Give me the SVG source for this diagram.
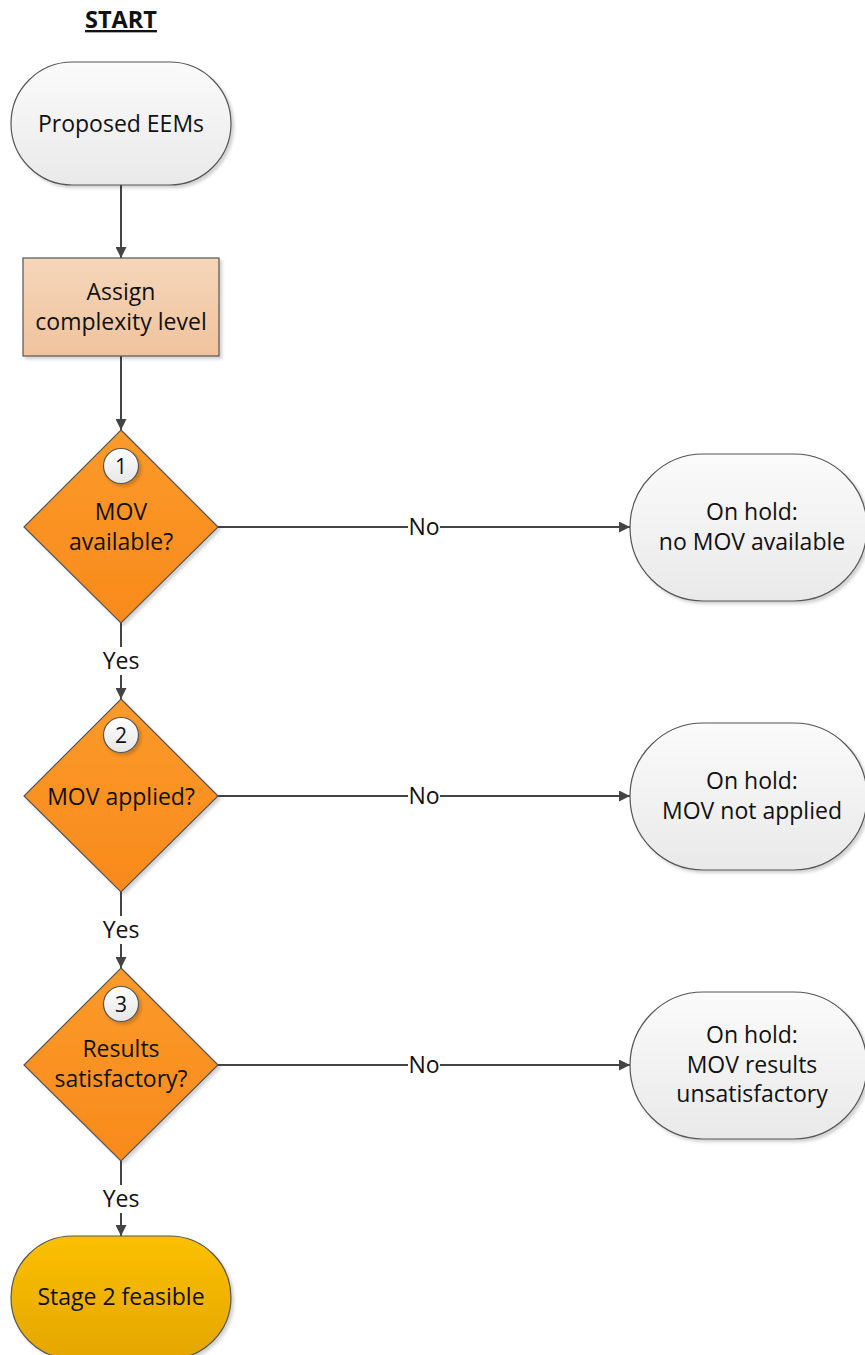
<svg xmlns="http://www.w3.org/2000/svg" width="865" height="1355" viewBox="0 0 865 1355">
  <defs>
    <linearGradient id="gGray" x1="0" y1="0" x2="0" y2="1">
      <stop offset="0" stop-color="#fbfbfb"/>
      <stop offset="1" stop-color="#e9e9e9"/>
    </linearGradient>
    <linearGradient id="gPeach" x1="0" y1="0" x2="0" y2="1">
      <stop offset="0" stop-color="#f5d6ba"/>
      <stop offset="1" stop-color="#f0c39d"/>
    </linearGradient>
    <linearGradient id="gOrange" x1="0" y1="0" x2="0" y2="1">
      <stop offset="0" stop-color="#fb9a2a"/>
      <stop offset="1" stop-color="#f98a1c"/>
    </linearGradient>
    <linearGradient id="gGold" x1="0" y1="0" x2="0" y2="1">
      <stop offset="0" stop-color="#fcc000"/>
      <stop offset="1" stop-color="#e4a600"/>
    </linearGradient>
    <linearGradient id="gBadge" x1="0" y1="0" x2="0" y2="1">
      <stop offset="0" stop-color="#ffffff"/>
      <stop offset="1" stop-color="#e6e6e6"/>
    </linearGradient>
    <filter id="shadow" x="-10%" y="-10%" width="130%" height="130%">
      <feDropShadow dx="2.5" dy="2.5" stdDeviation="1.5" flood-color="#000" flood-opacity="0.18"/>
    </filter>
    <marker id="arrow" viewBox="0 0 10 10" refX="10" refY="5" markerWidth="5.5" markerHeight="5.5" orient="auto" markerUnits="strokeWidth">
      <path d="M0,0 L10,5 L0,10 z" fill="#444"/>
    </marker>
  </defs>
  <style>
    text { font-family: "Open Sans", "Noto Sans", "DejaVu Sans", sans-serif; fill: #111; text-anchor: middle; }
    .lbl { font-size: 23px; }
    .edge { font-size: 23px; }
    .badge-t { font-size: 21px; }
    .shape { stroke: #555; stroke-width: 1.2; filter: url(#shadow); }
    .conn { stroke: #444; stroke-width: 2; fill: none; }
    .bg { fill: #fff; }
  </style>

  <!-- heading -->
  <text x="121" y="28" style="font-size:23.5px;font-weight:bold;text-decoration:underline">START</text>

  <!-- connectors -->
  <g id="connectors">
    <line class="conn" x1="121" y1="185" x2="121" y2="258" marker-end="url(#arrow)"/>
    <line class="conn" x1="121" y1="356" x2="121" y2="430" marker-end="url(#arrow)"/>

    <line class="conn" x1="121" y1="623" x2="121" y2="699" marker-end="url(#arrow)"/>
    <rect class="bg" x="99" y="647" width="44" height="28"/>
    <text class="edge" x="121" y="669">Yes</text>

    <line class="conn" x1="121" y1="892" x2="121" y2="968" marker-end="url(#arrow)"/>
    <rect class="bg" x="99" y="916" width="44" height="28"/>
    <text class="edge" x="121" y="938">Yes</text>

    <line class="conn" x1="121" y1="1161" x2="121" y2="1236" marker-end="url(#arrow)"/>
    <rect class="bg" x="99" y="1185" width="44" height="28"/>
    <text class="edge" x="121" y="1207">Yes</text>

    <line class="conn" x1="218" y1="527" x2="630" y2="527" marker-end="url(#arrow)"/>
    <rect class="bg" x="408" y="513" width="32" height="28"/>
    <text class="edge" x="424" y="535">No</text>

    <line class="conn" x1="218" y1="796" x2="630" y2="796" marker-end="url(#arrow)"/>
    <rect class="bg" x="408" y="782" width="32" height="28"/>
    <text class="edge" x="424" y="804">No</text>

    <line class="conn" x1="218" y1="1065" x2="630" y2="1065" marker-end="url(#arrow)"/>
    <rect class="bg" x="408" y="1051" width="32" height="28"/>
    <text class="edge" x="424" y="1073">No</text>
  </g>

  <!-- start terminator -->
  <g id="proposed">
    <rect class="shape" x="11" y="62" width="220" height="123" rx="61.5" fill="url(#gGray)"/>
    <text class="lbl" x="121" y="132">Proposed EEMs</text>
  </g>

  <!-- process -->
  <g id="assign">
    <rect class="shape" x="23" y="258" width="196" height="98" fill="url(#gPeach)"/>
    <text class="lbl" x="121" y="300">Assign</text>
    <text class="lbl" x="121" y="330">complexity level</text>
  </g>

  <!-- decision 1 -->
  <g id="decision1">
    <polygon class="shape" points="121,430 218,527 121,623 24,527" fill="url(#gOrange)"/>
    <circle class="shape" cx="121" cy="466" r="17.5" fill="url(#gBadge)"/>
    <text class="badge-t" x="121" y="473.5">1</text>
    <text class="lbl" x="121" y="520">MOV</text>
    <text class="lbl" x="121" y="550">available?</text>
  </g>

  <!-- decision 2 -->
  <g id="decision2">
    <polygon class="shape" points="121,699 218,796 121,892 24,796" fill="url(#gOrange)"/>
    <circle class="shape" cx="121" cy="735" r="17.5" fill="url(#gBadge)"/>
    <text class="badge-t" x="121" y="742.5">2</text>
    <text class="lbl" x="121" y="805">MOV applied?</text>
  </g>

  <!-- decision 3 -->
  <g id="decision3">
    <polygon class="shape" points="121,968 218,1065 121,1161 24,1065" fill="url(#gOrange)"/>
    <circle class="shape" cx="121" cy="1004" r="17.5" fill="url(#gBadge)"/>
    <text class="badge-t" x="121" y="1011.5">3</text>
    <text class="lbl" x="121" y="1057">Results</text>
    <text class="lbl" x="121" y="1087">satisfactory?</text>
  </g>

  <!-- hold terminators -->
  <g id="hold1">
    <rect class="shape" x="630" y="454" width="237" height="147" rx="73.5" fill="url(#gGray)"/>
    <text class="lbl" x="752" y="520">On hold:</text>
    <text class="lbl" x="752" y="550">no MOV available</text>
  </g>
  <g id="hold2">
    <rect class="shape" x="630" y="723" width="237" height="147" rx="73.5" fill="url(#gGray)"/>
    <text class="lbl" x="752" y="789">On hold:</text>
    <text class="lbl" x="752" y="819">MOV not applied</text>
  </g>
  <g id="hold3">
    <rect class="shape" x="630" y="992" width="237" height="147" rx="73.5" fill="url(#gGray)"/>
    <text class="lbl" x="752" y="1043">On hold:</text>
    <text class="lbl" x="752" y="1073">MOV results</text>
    <text class="lbl" x="752" y="1102">unsatisfactory</text>
  </g>

  <!-- end terminator -->
  <g id="stage2">
    <rect class="shape" x="11" y="1236" width="220" height="123" rx="61.5" fill="url(#gGold)"/>
    <text class="lbl" x="121" y="1305">Stage 2 feasible</text>
  </g>
</svg>
